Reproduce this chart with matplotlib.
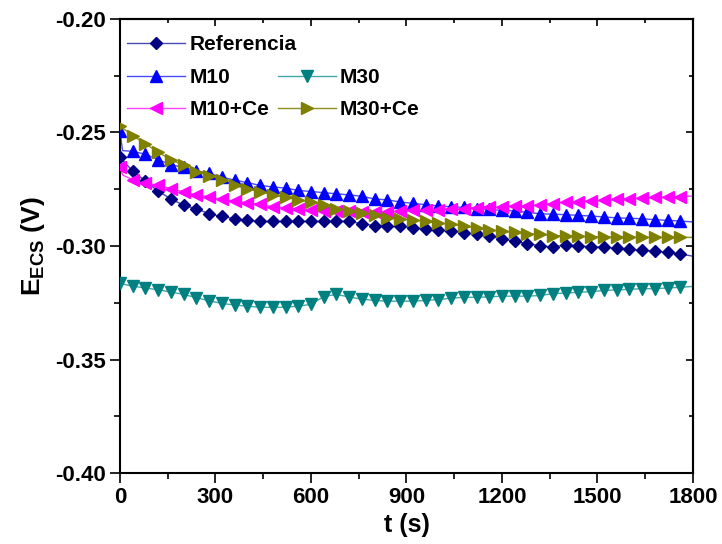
"""
Open circuit potential vs time for the five coatings (E_ECS vs t)
"""

import matplotlib
matplotlib.use('Agg')
import matplotlib.pyplot as plt
from matplotlib.lines import Line2D
from matplotlib.ticker import MultipleLocator

plt.rcParams['font.family'] = ['Liberation Sans', 'DejaVu Sans']
plt.rcParams['font.weight'] = 'bold'
plt.rcParams['font.size'] = 15
plt.rcParams['mathtext.fontset'] = 'custom'
plt.rcParams['mathtext.rm'] = 'Liberation Sans:bold'
plt.rcParams['mathtext.bf'] = 'Liberation Sans:bold'

# sampling grid of the markers (s), last point only carries the line to 1800 s
time_s = list(range(0, 1801, 40))

referencia = [
    -0.2610, -0.2670, -0.2714, -0.2759, -0.2792, -0.2821, -0.2836, -0.2858,
    -0.2870, -0.2880, -0.2887, -0.2892, -0.2892, -0.2892, -0.2892, -0.2892,
    -0.2892, -0.2892, -0.2892, -0.2902, -0.2910, -0.2914, -0.2914, -0.2920,
    -0.2925, -0.2929, -0.2935, -0.2942, -0.2949, -0.2958, -0.2968, -0.2979,
    -0.2990, -0.2998, -0.3005, -0.2995, -0.3000, -0.3003, -0.3006, -0.3010,
    -0.3015, -0.3019, -0.3023, -0.3028, -0.3035, -0.3045]

m10 = [
    -0.2495, -0.2583, -0.2596, -0.2620, -0.2642, -0.2654, -0.2670, -0.2680,
    -0.2697, -0.2710, -0.2721, -0.2733, -0.2740, -0.2745, -0.2755, -0.2760,
    -0.2765, -0.2770, -0.2775, -0.2781, -0.2793, -0.2797, -0.2806, -0.2812,
    -0.2818, -0.2824, -0.2827, -0.2830, -0.2835, -0.2839, -0.2843, -0.2846,
    -0.2852, -0.2858, -0.2860, -0.2862, -0.2865, -0.2868, -0.2872, -0.2876,
    -0.2878, -0.2880, -0.2884, -0.2887, -0.2890, -0.2894]

m30 = [
    -0.3165, -0.3177, -0.3185, -0.3193, -0.3203, -0.3213, -0.3228, -0.3241,
    -0.3253, -0.3260, -0.3265, -0.3270, -0.3270, -0.3270, -0.3265, -0.3257,
    -0.3223, -0.3213, -0.3225, -0.3234, -0.3240, -0.3243, -0.3243, -0.3243,
    -0.3240, -0.3236, -0.3230, -0.3226, -0.3226, -0.3224, -0.3221, -0.3221,
    -0.3221, -0.3218, -0.3210, -0.3207, -0.3204, -0.3201, -0.3196, -0.3193,
    -0.3191, -0.3188, -0.3188, -0.3185, -0.3182, -0.3178]

m10_ce = [
    -0.2650, -0.2708, -0.2722, -0.2733, -0.2747, -0.2762, -0.2776, -0.2783,
    -0.2795, -0.2801, -0.2810, -0.2817, -0.2827, -0.2832, -0.2839, -0.2842,
    -0.2845, -0.2847, -0.2848, -0.2849, -0.2850, -0.2849, -0.2848, -0.2843,
    -0.2840, -0.2840, -0.2837, -0.2835, -0.2832, -0.2830, -0.2828, -0.2825,
    -0.2822, -0.2820, -0.2813, -0.2806, -0.2805, -0.2802, -0.2799, -0.2795,
    -0.2792, -0.2789, -0.2786, -0.2784, -0.2782, -0.2780]

m30_ce = [
    -0.2471, -0.2514, -0.2550, -0.2587, -0.2620, -0.2645, -0.2672, -0.2691,
    -0.2709, -0.2731, -0.2748, -0.2760, -0.2775, -0.2785, -0.2797, -0.2806,
    -0.2819, -0.2836, -0.2846, -0.2854, -0.2865, -0.2875, -0.2880, -0.2885,
    -0.2892, -0.2898, -0.2905, -0.2912, -0.2920, -0.2928, -0.2936, -0.2940,
    -0.2945, -0.2949, -0.2954, -0.2956, -0.2958, -0.2959, -0.2960, -0.2961,
    -0.2962, -0.2962, -0.2962, -0.2962, -0.2962, -0.2962]

# quick drop just after immersion (t ~ 8 s), unmarked
early_t = 8
m10_early = -0.2580
m10_ce_early = -0.2687

series = [
    # label, values, early value, marker, marker colour, line colour, size
    ('Referencia', referencia, None, 'D', '#000080', '#4848B8', 5.9),
    ('M10', m10, m10_early, '^', '#0000FF', '#4A4AFF', 8.3),
    ('M30', m30, None, 'v', '#008080', '#40A8A8', 8.3),
    ('M10+Ce', m10_ce, m10_ce_early, '<', '#FF00FF', '#FF40FF', 8.3),
    ('M30+Ce', m30_ce, None, '>', '#808000', '#909020', 8.3),
]

fig = plt.figure(figsize=(7.22, 5.44), dpi=100)
ax = fig.add_axes([0.1662, 0.1305, 0.7936, 0.8346])

handles = {}
for label, vals, early, mk, mc, lc, ms in series:
    if early is None:
        lt, lv = time_s, vals
    else:
        lt = [time_s[0], early_t] + time_s[1:]
        lv = [vals[0], early] + vals[1:]
    ax.plot(lt, lv, '-', color=lc, lw=1.0, zorder=2)
    ax.plot(time_s[:-1], vals[:-1], linestyle='none', marker=mk,
            markersize=ms, color=mc, markeredgecolor=mc, zorder=3)
    handles[label] = Line2D([], [], color=lc, lw=1.0, marker=mk,
                            markersize=ms, markerfacecolor=mc,
                            markeredgecolor=mc)

ax.set_xlim(0, 1800)
ax.set_ylim(-0.40, -0.20)
ax.xaxis.set_major_locator(MultipleLocator(300))
ax.xaxis.set_minor_locator(MultipleLocator(150))
ax.yaxis.set_major_locator(MultipleLocator(0.05))
ax.yaxis.set_minor_locator(MultipleLocator(0.025))
ax.yaxis.set_major_formatter(plt.FormatStrFormatter('%.2f'))

for sp in ax.spines.values():
    sp.set_linewidth(1.5)
ax.tick_params(which='major', direction='out', length=7, width=1.2, pad=3,
               labelsize=16)
ax.tick_params(which='minor', direction='out', length=4, width=1.2)

# inward ticks on the top and right frame, no labels
top = ax.secondary_xaxis('top')
top.xaxis.set_major_locator(MultipleLocator(300))
top.xaxis.set_minor_locator(MultipleLocator(150))
top.tick_params(which='both', direction='in', labeltop=False, width=1.2)
top.tick_params(which='major', length=5)
top.tick_params(which='minor', length=3)
right = ax.secondary_yaxis('right')
right.yaxis.set_major_locator(MultipleLocator(0.05))
right.yaxis.set_minor_locator(MultipleLocator(0.025))
right.tick_params(which='both', direction='in', labelright=False, width=1.2)
right.tick_params(which='major', length=5)
right.tick_params(which='minor', length=3)
for sec in (top, right):
    for sp in sec.spines.values():
        sp.set_linewidth(1.5)

ax.set_xlabel('t (s)', fontsize=18, fontweight='bold', labelpad=4)
ax.set_ylabel(r'$\mathregular{E_{ECS}}$ (V)', fontsize=19,
              fontweight='bold', labelpad=6)

leg_kw = dict(frameon=False, fontsize=15, handlelength=2.8,
              handletextpad=0.2, borderpad=0, borderaxespad=0,
              labelspacing=0.6, columnspacing=0.4, loc='upper left')
leg1 = ax.legend([handles['Referencia']], ['Referencia'],
                 bbox_to_anchor=(0.012, 0.964), **leg_kw)
ax.add_artist(leg1)
ax.legend([handles['M10'], handles['M10+Ce'], handles['M30'], handles['M30+Ce']],
          ['M10', 'M10+Ce', 'M30', 'M30+Ce'], ncol=2,
          bbox_to_anchor=(0.012, 0.891), **leg_kw)

fig.savefig('out.png', dpi=100)
